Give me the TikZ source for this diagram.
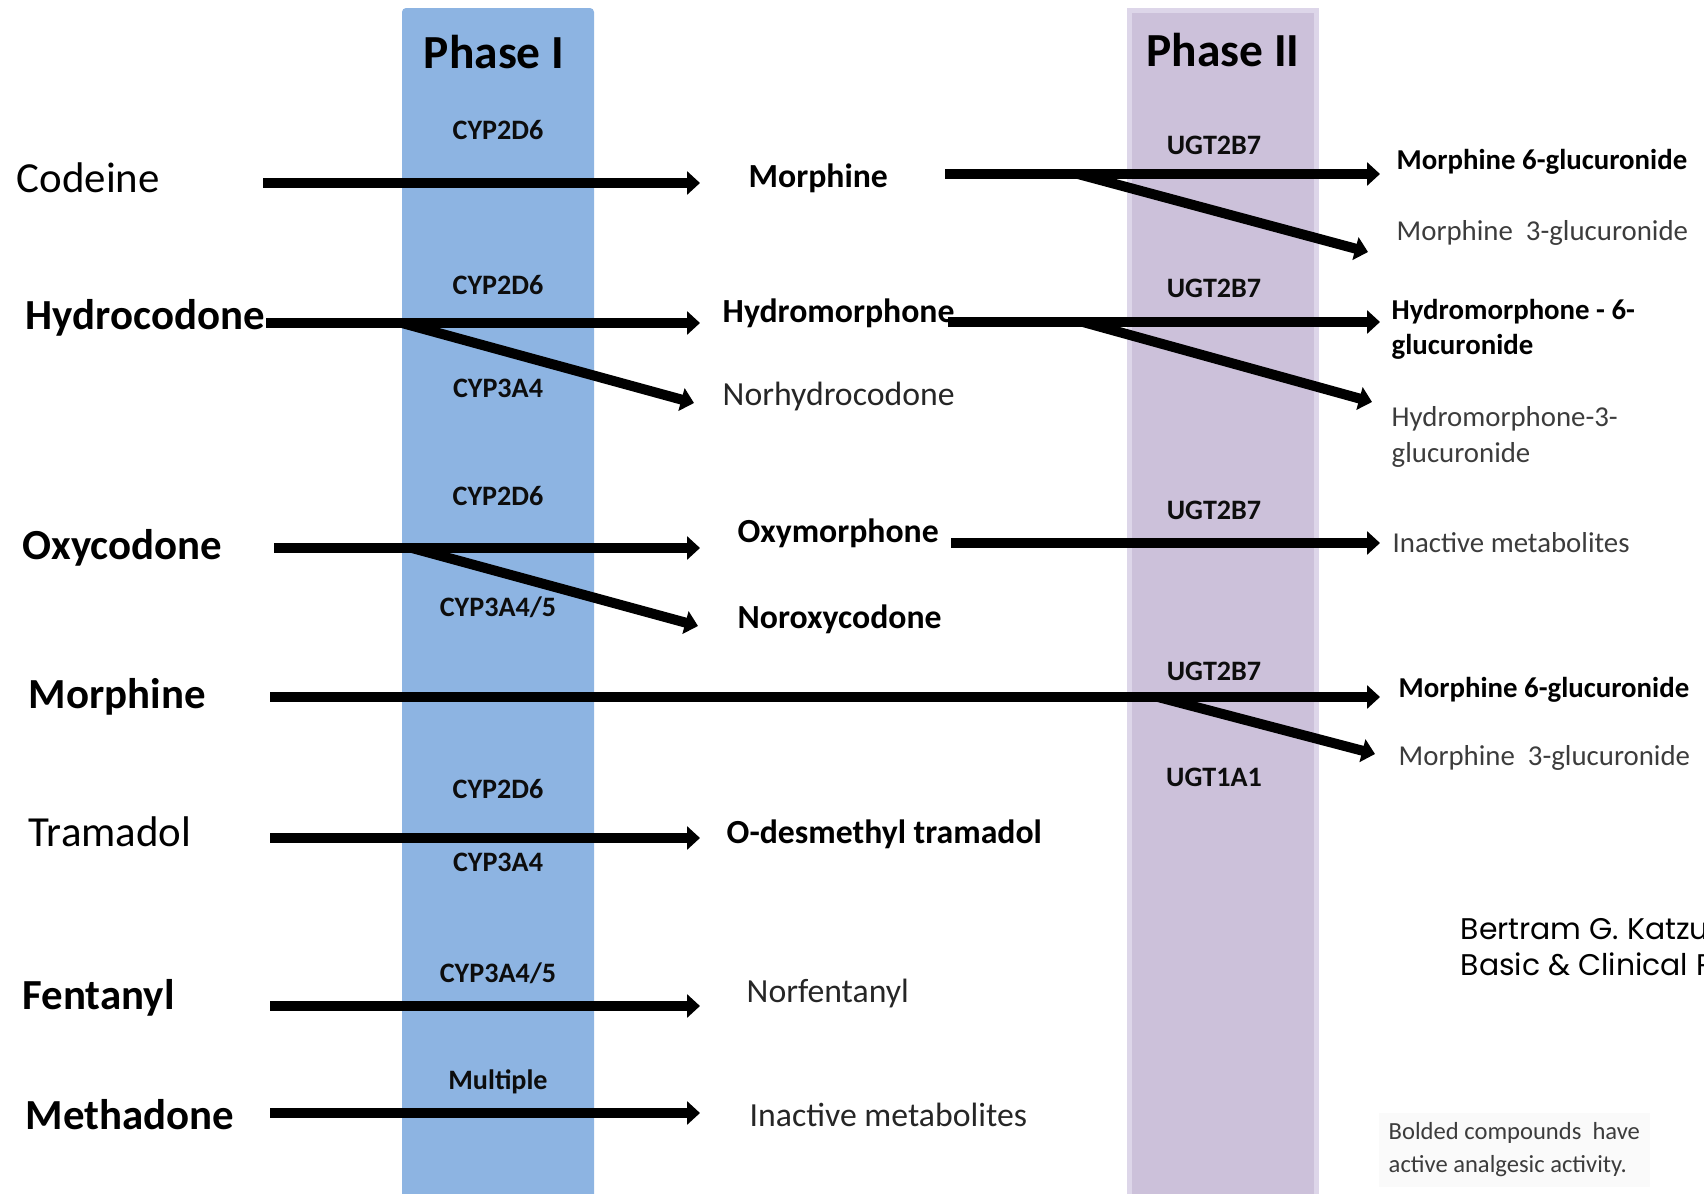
\documentclass[tikz,border=0pt]{standalone}
\usepackage{fontspec}
\setmainfont{Carlito}
\newfontfamily\citefont{Poppins}
\usetikzlibrary{arrows.meta}
\definecolor{phaseblue}{HTML}{8DB4E2}
\definecolor{phaselilac}{HTML}{CCC1DA}
\definecolor{lilacedge}{HTML}{DDD6E9}
\definecolor{softgray}{HTML}{3C3C3C}
\definecolor{notegray}{HTML}{FAFAFA}
\tikzset{
  flow/.style={line width=1mm,-{Triangle[width=2.3mm,length=1.3mm]}},
  drug/.style={anchor=west,inner sep=0pt,font=\fontsize{12.2}{14}\selectfont},
  enzyme/.style={inner sep=0pt,text=black!95,font=\bfseries\fontsize{8}{9.6}\selectfont},
  midprod/.style={anchor=west,inner sep=0pt,font=\fontsize{9.6}{11.5}\selectfont},
  endprod/.style={anchor=west,inner sep=0pt,align=left,font=\fontsize{8.2}{10}\selectfont},
  phasetitle/.style={inner sep=0pt,font=\bfseries\fontsize{13.5}{16}\selectfont}
}

\begin{document}
\begin{tikzpicture}[x=0.1mm,y=-0.1mm]
  \useasboundingbox (0,0) rectangle (1704,1194);
  \clip (0,0) rectangle (1704,1194);
  % phase columns
  \fill[phaseblue,rounded corners=0.4mm] (402,8) rectangle (594,1240);
  \filldraw[fill=phaselilac,draw=lilacedge,line width=0.5mm] (1129.5,10.5) rectangle (1316.5,1240);
  \node[phasetitle] (phI) at (494,52) {Phase I};
  \node[phasetitle] (phII) at (1223,50) {Phase II};

  \coordinate (endI) at (700,0);
  \coordinate (endII) at (1380,0);

  % drugs
  \node[drug] (cod) at (16,178) {Codeine};
  \node[drug] (hyd) at (25,318) {\bfseries Hydrocodone};
  \node[drug] (oxy) at (22,548) {\bfseries Oxycodone};
  \node[drug] (mor) at (28,697) {\bfseries Morphine};
  \node[drug] (tra) at (28,832) {Tramadol};
  \node[drug] (fen) at (22,998) {\bfseries Fentanyl};
  \node[drug] (met) at (25,1115) {\bfseries Methadone};

  % phase I enzymes
  \node[enzyme] (e1) at (498,130) {CYP2D6};
  \node[enzyme] (e2) at (498,285) {CYP2D6};
  \node[enzyme] (e3) at (498,388) {CYP3A4};
  \node[enzyme] (e4) at (498,496) {CYP2D6};
  \node[enzyme] (e5) at (498,607) {CYP3A4/5};
  \node[enzyme] (e6) at (498,789) {CYP2D6};
  \node[enzyme] (e7) at (498,862) {CYP3A4};
  \node[enzyme] (e8) at (498,973) {CYP3A4/5};
  \node[enzyme] (e9) at (498,1082) {Multiple};

  % phase II enzymes
  \node[enzyme] (u1) at (1214,145) {UGT2B7};
  \node[enzyme] (u2) at (1214,288) {UGT2B7};
  \node[enzyme] (u3) at (1214,510) {UGT2B7};
  \node[enzyme] (u4) at (1214,671) {UGT2B7};
  \node[enzyme] (u5) at (1214,777) {UGT1A1};

  % phase I products
  \node[midprod] (morA) at (748,178) {\bfseries Morphine};
  \node[midprod] (hydm) at (722,313) {\bfseries Hydromorphone};
  \node[midprod,text=black!85] (norh) at (722,397) {Norhydrocodone};
  \node[midprod] (oxym) at (737,533) {\bfseries Oxymorphone};
  \node[midprod] (norx) at (737,619) {\bfseries Noroxycodone};
  \node[midprod] (odes) at (726,834) {\bfseries O-desmethyl tramadol};
  \node[midprod,text=black!85] (norf) at (746,993) {Norfentanyl};
  \node[midprod,text=black!85] (inI) at (749,1115) {Inactive metabolites};

  % phase II products
  \node[endprod] (m6g) at (1396,162) {\bfseries Morphine 6-glucuronide};
  \node[endprod,text=softgray] (m3g) at (1396,233) {Morphine~ 3-glucuronide};
  \node[endprod] (h6g) at (1391,329) {\bfseries Hydromorphone - 6-\\\bfseries glucuronide};
  \node[endprod,text=softgray] (h3g) at (1391,437) {Hydromorphone-3-\\glucuronide};
  \node[endprod,text=softgray] (inII) at (1392,543) {Inactive metabolites};
  \node[endprod] (m6gb) at (1398,690) {\bfseries Morphine 6-glucuronide};
  \node[endprod,text=softgray] (m3gb) at (1398,758) {Morphine~ 3-glucuronide};

  % tails, branch points and branch tips
  \coordinate (codT) at (263,183);
  \coordinate (hydT) at (266,323);
  \coordinate (hydB) at (402,323);
  \coordinate (norhT) at (694,403);
  \coordinate (oxyT) at (274,548);
  \coordinate (oxyB) at (412,548);
  \coordinate (norxT) at (698,626);
  \coordinate (morT) at (270,697);
  \coordinate (morB) at (1158,697);
  \coordinate (m3gbT) at (1375,754);
  \coordinate (traT) at (270,838);
  \coordinate (fenT) at (270,1006);
  \coordinate (metT) at (270,1113);
  \coordinate (morAT) at (945,174);
  \coordinate (morAB) at (1078,174);
  \coordinate (m3gT) at (1368,252);
  \coordinate (hydmT) at (948,322);
  \coordinate (hydmB) at (1083,322);
  \coordinate (h3gT) at (1372,402);
  \coordinate (oxymT) at (951,543);

  % phase I arrows
  \draw[flow] (codT) -- (codT -| endI);
  \draw[flow] (hydT) -- (hydT -| endI);
  \draw[flow] (hydB) -- (norhT);
  \draw[flow] (oxyT) -- (oxyT -| endI);
  \draw[flow] (oxyB) -- (norxT);
  \draw[flow] (traT) -- (traT -| endI);
  \draw[flow] (fenT) -- (fenT -| endI);
  \draw[flow] (metT) -- (metT -| endI);

  % phase II arrows
  \draw[flow] (morAT) -- (morAT -| endII);
  \draw[flow] (morAB) -- (m3gT);
  \draw[flow] (hydmT) -- (hydmT -| endII);
  \draw[flow] (hydmB) -- (h3gT);
  \draw[flow] (oxymT) -- (oxymT -| endII);
  \draw[flow] (morT) -- (morT -| endII);
  \draw[flow] (morB) -- (m3gbT);

  % source and note
  \node[anchor=west,inner sep=0pt,align=left,font=\citefont\fontsize{8.5}{10.5}\selectfont] (cite) at (1460,951) {Bertram G. Katzung\\Basic \& Clinical Pharmacology};
  \node[anchor=west,fill=notegray,inner sep=1mm,align=left,text=softgray,font=\fontsize{7}{9.4}\selectfont] (note) at (1378,1150) {Bolded compounds~ have\\active analgesic activity.};
\end{tikzpicture}
\end{document}
